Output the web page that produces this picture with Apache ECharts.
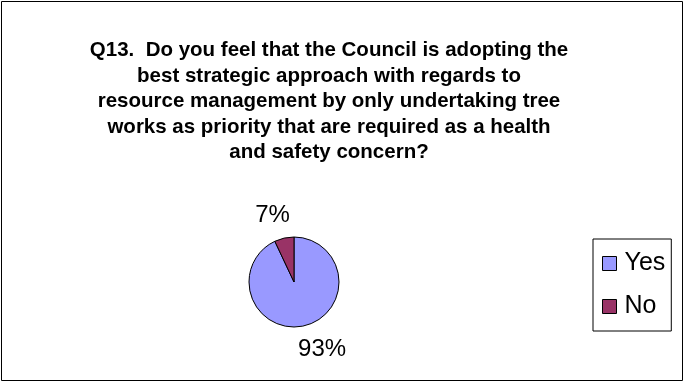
<!DOCTYPE html>
<html>
<head>
<meta charset="utf-8">
<script src="https://cdn.jsdelivr.net/npm/echarts@6/dist/echarts.min.js"></script>
<style>
html, body { margin: 0; padding: 0; background: #fff; }
#chart { width: 685px; height: 383px; }
</style>
</head>
<body>
<div id="chart"></div>
<script>
var titleLines = [
	"Q13.  Do you feel that the Council is adopting the",
	"best strategic approach with regards to",
	"resource management by only undertaking tree",
	"works as priority that are required as a health",
	"and safety concern?"
];
var categories = ["Yes", "No"];
var values = [93, 7];
var colors = ["#9999FF", "#993366"];

var chart = echarts.init(document.getElementById("chart"));

// 标签偏移 (Excel 把百分比放在扇区外正中)
var labelShift = [[-16, 0], [16, 1]];

var pieData = [];
for (var i = 0; i < categories.length; i++) {
	pieData.push({
		name: categories[i],
		value: values[i],
		itemStyle: { color: colors[i] },
		label: { offset: labelShift[i] }
	});
}

var option = {
	animation: false,
	graphic: [{
		type: 'rect',
		shape: { x: 1.5, y: 1.5, width: 681, height: 379 },
		style: { fill: 'none', stroke: '#000', lineWidth: 1 }
	}],
	title: {
		text: titleLines.join("\n"),
		left: 324,
		textAlign: 'center',
		top: 33,
		textStyle: {
			fontFamily: 'Liberation Sans, Arial, sans-serif',
			fontWeight: 'bold',
			fontSize: 20.5,
			lineHeight: 25.5,
			color: '#000'
		}
	},
	legend: {
		orient: 'vertical',
		left: 593,
		top: 239,
		width: 85,
		height: 86,
		padding: [12, 6, 12, 9],
		itemGap: 18,
		itemWidth: 14,
		itemHeight: 14,
		borderColor: '#000',
		borderWidth: 1,
		icon: 'rect',
		itemStyle: { borderColor: '#000', borderWidth: 1 },
		textStyle: {
			fontFamily: 'Liberation Sans, Arial, sans-serif',
			fontSize: 25,
			color: '#000',
			padding: [0, 0, 0, 3]
		},
		data: categories
	},
	series: [{
		type: 'pie',
		center: [294, 282],
		radius: 45,
		startAngle: 90,
		clockwise: true,
		data: pieData,
		itemStyle: { borderColor: '#000', borderWidth: 1 },
		label: {
			show: true,
			position: 'outside',
			formatter: '{d}%',
			fontFamily: 'Liberation Sans, Arial, sans-serif',
			fontSize: 24,
			color: '#000'
		},
		labelLine: { show: false, length: 24, length2: 0 },
		emphasis: { disabled: true }
	}]
};

chart.setOption(option);
</script>
</body>
</html>
